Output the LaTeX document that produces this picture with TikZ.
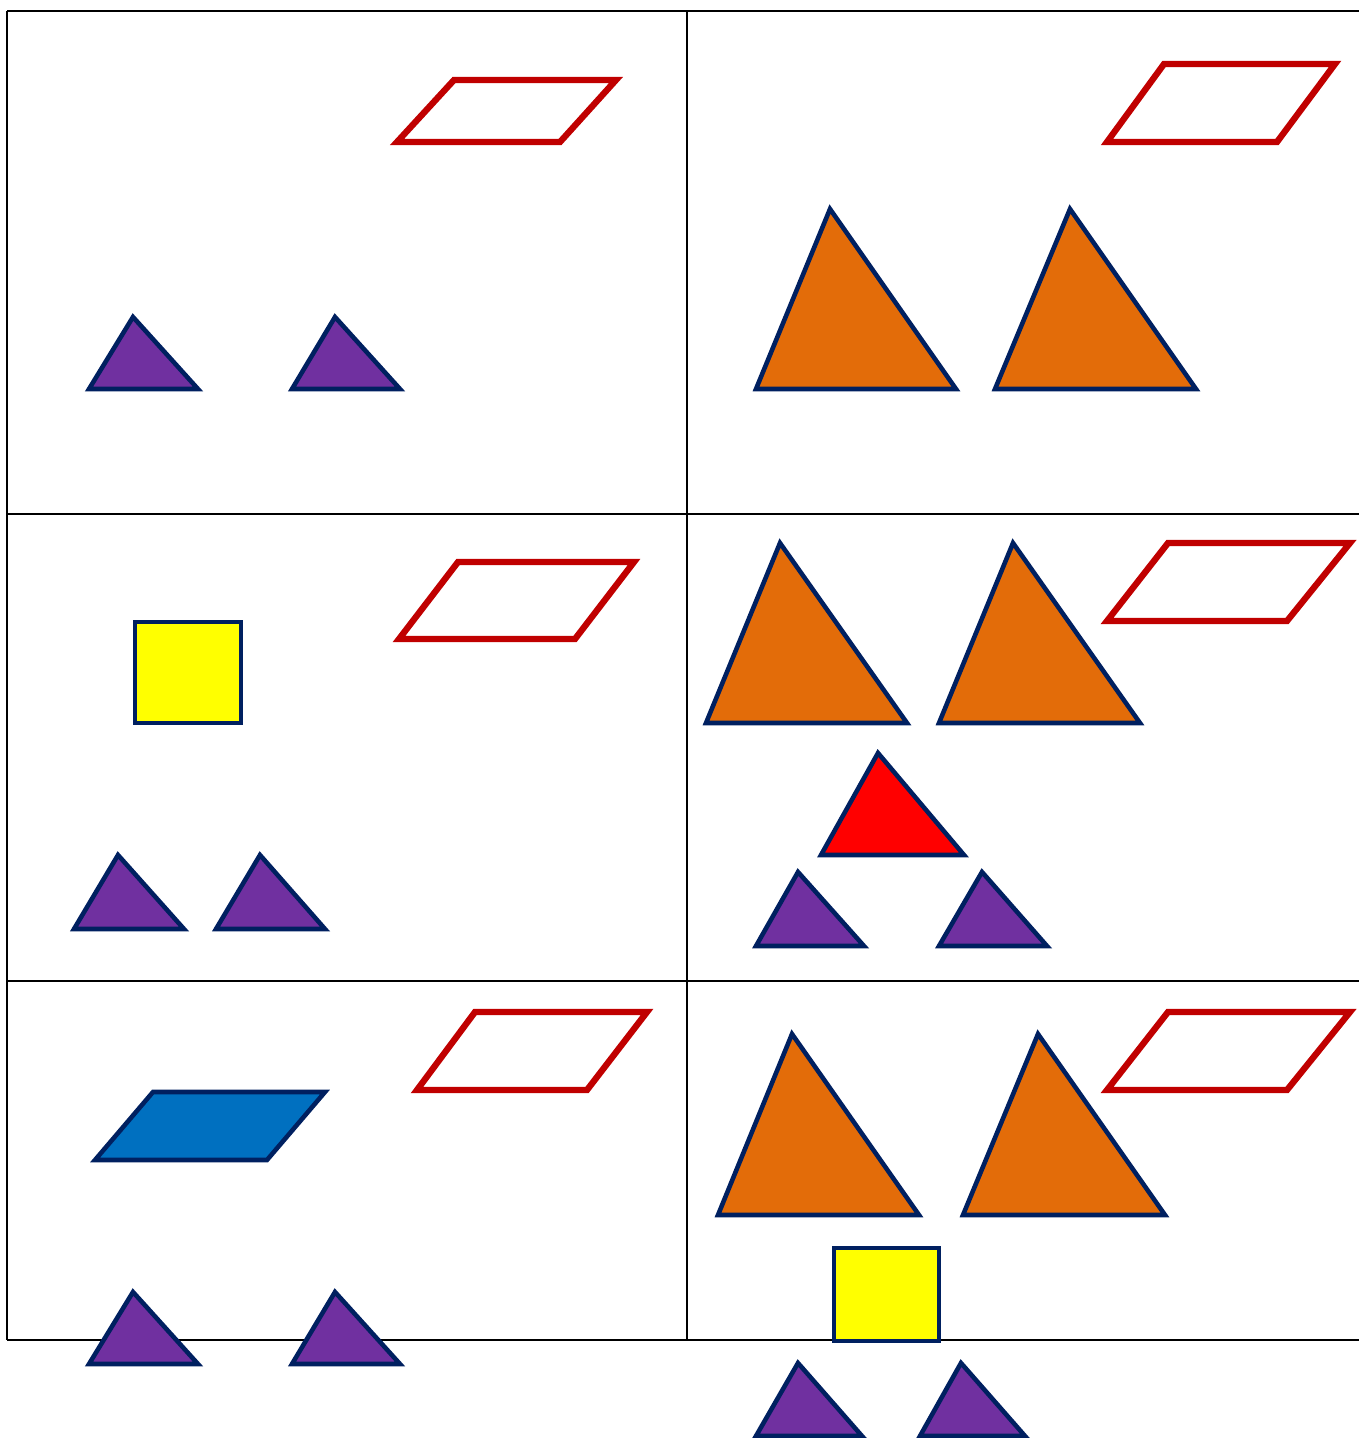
\documentclass[tikz,border=0pt]{standalone}
\usepackage{tikz}
\definecolor{navy}{HTML}{002060}
\definecolor{darkred}{HTML}{C00000}
\definecolor{purp}{HTML}{7030A0}
\definecolor{orng}{HTML}{E36C09}
\definecolor{yel}{HTML}{FFFF00}
\definecolor{blu}{HTML}{0070C0}
\definecolor{brightred}{HTML}{FF0000}
\tikzset{
  gridline/.style={black, line width=0.85pt},
  outlinepar/.style={draw=darkred, line width=3.6pt, fill=white},
  shp/.style={draw=navy, line width=2.6pt, line join=miter},
  purpletri/.style={shp, fill=purp},
  orangetri/.style={shp, fill=orng},
  redtri/.style={shp, fill=brightred},
  yelsq/.style={shp, fill=yel},
  bluepar/.style={shp, fill=blu}
}
\begin{document}
\begin{tikzpicture}[x=0.02cm, y=-0.02cm]
\useasboundingbox (0,0) rectangle (1359,1438);
% grid
\draw[gridline] (7,11) -- (1359,11);
\draw[gridline] (7,514) -- (1359,514);
\draw[gridline] (7,981) -- (1359,981);
\draw[gridline] (7,1340) -- (1359,1340);
\draw[gridline] (7,11) -- (7,1340);
\draw[gridline] (687,11) -- (687,1340);

% cell 1
\draw[outlinepar] (397,142) -- (454,80) -- (616,80) -- (560,142) -- cycle;
\draw[purpletri] (89,389) -- (133,317) -- (198,389) -- cycle;
\draw[purpletri] (292,389) -- (335,317) -- (400,389) -- cycle;

% cell 2
\draw[outlinepar] (1107,142) -- (1164,64) -- (1335,64) -- (1277,142) -- cycle;
\draw[orangetri] (756,389) -- (830,209) -- (956,389) -- cycle;
\draw[orangetri] (995,389) -- (1070,209) -- (1196,389) -- cycle;

% cell 3
\draw[outlinepar] (399,639) -- (458,562) -- (634,562) -- (575,639) -- cycle;
\draw[yelsq] (135,622) rectangle (241,723);
\draw[purpletri] (74,929) -- (118,855) -- (184,929) -- cycle;
\draw[purpletri] (216,929) -- (260,855) -- (325,929) -- cycle;

% cell 4
\draw[orangetri] (706,723) -- (780,543) -- (907,723) -- cycle;
\draw[orangetri] (939,723) -- (1013,543) -- (1140,723) -- cycle;
\draw[outlinepar] (1107,621) -- (1168,543) -- (1350,543) -- (1287,621) -- cycle;
\draw[redtri] (821,855) -- (878,753) -- (964,855) -- cycle;
\draw[purpletri] (756,946) -- (798,872) -- (864,946) -- cycle;
\draw[purpletri] (939,946) -- (982,872) -- (1047,946) -- cycle;

% cell 5
\draw[outlinepar] (417,1090) -- (475,1012) -- (647,1012) -- (587,1090) -- cycle;
\draw[bluepar] (95,1160) -- (153,1092) -- (325,1092) -- (267,1160) -- cycle;
\draw[purpletri] (89,1364) -- (133,1292) -- (198,1364) -- cycle;
\draw[purpletri] (292,1364) -- (335,1292) -- (400,1364) -- cycle;

% cell 6
\draw[orangetri] (718,1215) -- (792,1034) -- (919,1215) -- cycle;
\draw[orangetri] (963,1215) -- (1038,1034) -- (1165,1215) -- cycle;
\draw[outlinepar] (1107,1090) -- (1168,1012) -- (1350,1012) -- (1287,1090) -- cycle;
\draw[yelsq] (834,1248) rectangle (939,1341);
\draw[purpletri] (756,1436) -- (798,1363) -- (862,1436) -- cycle;
\draw[purpletri] (920,1436) -- (961,1363) -- (1025,1436) -- cycle;
\end{tikzpicture}
\end{document}
